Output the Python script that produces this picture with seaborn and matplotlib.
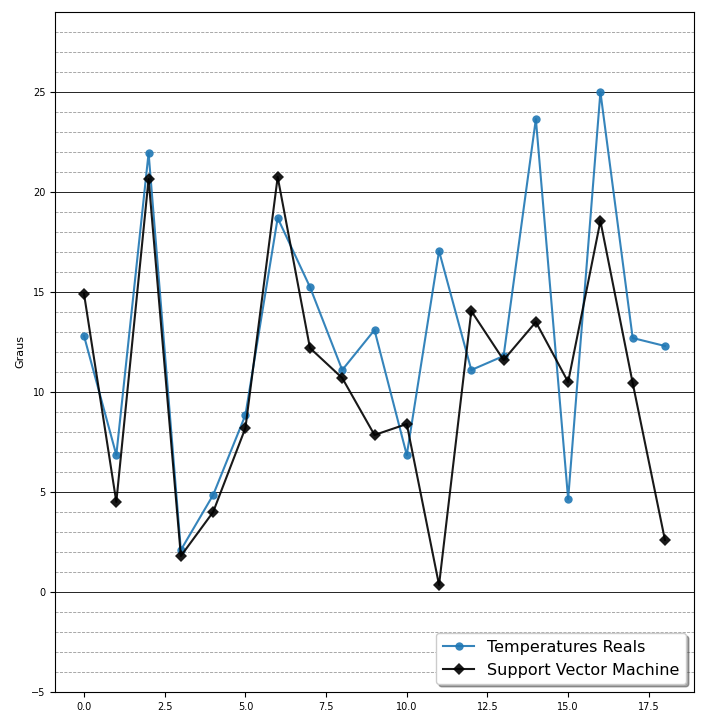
import numpy as np
import pandas as pd
import seaborn as sns
import matplotlib.pyplot as plt
from matplotlib.ticker import MultipleLocator

dies = list(range(19))
temperatures_reals = [12.8, 6.85, 21.95, 2.1, 4.85, 8.85, 18.7, 15.25, 11.1, 13.1,
                      6.85, 17.05, 11.1, 11.8, 23.65, 4.65, 25.0, 12.7, 12.3]
svm_prediccio = [14.9, 4.5, 20.65, 1.8, 4.0, 8.2, 20.75, 12.2, 10.7, 7.85,
                 8.4, 0.35, 14.05, 11.6, 13.5, 10.5, 18.55, 10.45, 2.6]

df = pd.DataFrame({'dia': dies, 'real': temperatures_reals, 'svm': svm_prediccio})

fig = plt.figure(figsize=(7.19, 7.19), dpi=100)
ax = fig.add_axes([55 / 719, 27 / 719, 639 / 719, 680 / 719])

sns.lineplot(data=df, x='dia', y='real', ax=ax, color='#1f77b4', marker='o',
             markersize=6, markeredgewidth=0, label='Temperatures Reals', alpha=0.9)
sns.lineplot(data=df, x='dia', y='svm', ax=ax, color='black', marker='D',
             markersize=6, markeredgewidth=0, label='Support Vector Machine', alpha=0.9)

ax.set_ylim(-5, 29)
ax.set_xlim(-0.9, 18.9)
ax.set_xlabel('')
ax.set_ylabel('Graus', fontsize=8)
ax.xaxis.set_major_locator(MultipleLocator(2.5))
ax.yaxis.set_major_locator(MultipleLocator(5))
ax.yaxis.set_minor_locator(MultipleLocator(1))
ax.tick_params(labelsize=7)
ax.tick_params(axis='y', which='minor', length=0)
ax.grid(axis='y', which='major', color='black', linewidth=0.6)
ax.grid(axis='y', which='minor', color='gray', linestyle='--', linewidth=0.6, alpha=0.8)
ax.set_axisbelow(True)
ax.legend(loc='lower right', fontsize=11.5, shadow=True, fancybox=True)

fig.savefig('out.png', dpi=100)
